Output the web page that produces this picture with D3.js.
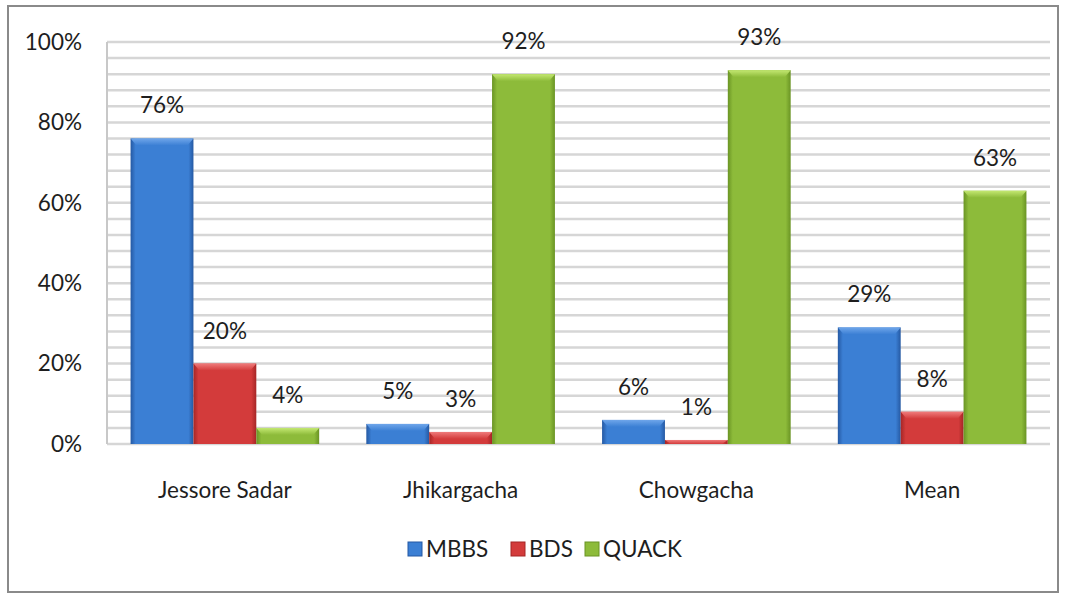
<!DOCTYPE html>
<html>
<head>
<meta charset="utf-8">
<script src="https://cdn.jsdelivr.net/npm/d3@7"></script>
<style>
  html, body { margin: 0; padding: 0; background: #fff; }
  svg { display: block; }
  text { font-family: Lato, "Open Sans", sans-serif; fill: #1e1e1e; }
</style>
</head>
<body>
<svg id="chart" width="1067" height="596"></svg>
<script>
// Share of practitioners by type in each upazila
const categories = ["Jessore Sadar", "Jhikargacha", "Chowgacha", "Mean"];
const seriesNames = ["MBBS", "BDS", "QUACK"];
const mbbs  = [76, 5, 6, 29];
const bds   = [20, 3, 1, 8];
const quack = [4, 92, 93, 63];
const yTicks = [0, 20, 40, 60, 80, 100];
const yMinorStep = 4;

const seriesValues = [mbbs, bds, quack];
const palette = [
  { mid: "#3b7fd4", dark: "#2559a3", light: "#6fa6ea" },
  { mid: "#d33b3b", dark: "#a52626", light: "#ef7b7b" },
  { mid: "#8dbb3a", dark: "#6a9424", light: "#c4e872" }
];
const fontSize = "22.5px";

const svg = d3.select("#chart");
const plot = { left: 107, right: 1050, top: 42, bottom: 444 };

// outer frame
svg.append("rect")
  .attr("x", 8).attr("y", 6).attr("width", 1050).attr("height", 586)
  .attr("fill", "none").attr("stroke", "#8a8a8a").attr("stroke-width", 2);

const x0 = d3.scaleBand().domain(categories).range([plot.left, plot.right]).paddingInner(0.2).paddingOuter(0.1);
const x1 = d3.scaleBand().domain(seriesNames).range([0, x0.bandwidth()]);
const y = d3.scaleLinear().domain([0, 100]).range([plot.bottom, plot.top]);

// gradients
const defs = svg.append("defs");
palette.forEach((c, i) => {
  const g = defs.append("linearGradient").attr("id", "grad" + i)
    .attr("x1", "0").attr("x2", "1").attr("y1", "0").attr("y2", "0");
  g.append("stop").attr("offset", "0").attr("stop-color", c.dark);
  g.append("stop").attr("offset", "0.08").attr("stop-color", c.mid);
  g.append("stop").attr("offset", "0.92").attr("stop-color", c.mid);
  g.append("stop").attr("offset", "1").attr("stop-color", c.dark);
  const t = defs.append("linearGradient").attr("id", "top" + i)
    .attr("x1", "0").attr("x2", "0").attr("y1", "0").attr("y2", "1");
  t.append("stop").attr("offset", "0").attr("stop-color", c.light);
  t.append("stop").attr("offset", "1").attr("stop-color", c.mid);
});

// horizontal gridlines every 4%
const gridVals = d3.range(0, 100 + 0.001, yMinorStep);
svg.append("g").selectAll("line").data(gridVals).join("line")
  .attr("x1", plot.left).attr("x2", plot.right)
  .attr("y1", d => y(d)).attr("y2", d => y(d))
  .attr("stroke", "#d6d6d6").attr("stroke-width", 2.5);

// left axis line
svg.append("line").attr("x1", plot.left).attr("x2", plot.left)
  .attr("y1", plot.top).attr("y2", plot.bottom)
  .attr("stroke", "#c8c8c8").attr("stroke-width", 2);

// y axis labels
const yAxis = d3.axisLeft(y).tickValues(yTicks).tickFormat(d => d + "%").tickSize(0).tickPadding(25);
const ya = svg.append("g").attr("transform", `translate(${plot.left},0)`).call(yAxis);
ya.select(".domain").remove();
ya.selectAll("text").style("font-size", fontSize).style("font-family", "Lato, sans-serif").attr("fill", "#1e1e1e");

// bars
const groups = svg.append("g").selectAll("g").data(categories).join("g")
  .attr("transform", d => `translate(${x0(d)},0)`);

seriesNames.forEach((s, si) => {
  groups.each(function(cat, ci) {
    const v = seriesValues[si][ci];
    const g = d3.select(this);
    const bx = x1(s), bw = x1.bandwidth();
    const by = y(v), bh = y(0) - y(v);
    g.append("rect").attr("x", bx).attr("y", by).attr("width", bw).attr("height", bh)
      .attr("fill", `url(#grad${si})`);
    const bev = Math.min(7, bh);
    g.append("path")
      .attr("d", `M${bx},${by} L${bx + bw},${by} L${bx + bw - 6},${by + bev} L${bx + 6},${by + bev} Z`)
      .attr("fill", `url(#top${si})`);
    g.append("text")
      .attr("x", bx + bw / 2).attr("y", by - 25)
      .attr("text-anchor", "middle")
      .style("font-size", fontSize)
      .text(v + "%");
  });
});

// category labels
svg.append("g").selectAll("text").data(categories).join("text")
  .attr("x", d => x0(d) + x0.bandwidth() / 2)
  .attr("y", 498)
  .attr("text-anchor", "middle")
  .style("font-size", fontSize)
  .text(d => d);

// legend
const legendX = [408, 511, 585];
const leg = svg.append("g").selectAll("g").data(seriesNames).join("g")
  .attr("transform", (d, i) => `translate(${legendX[i]},549)`);
leg.append("rect").attr("x", 0).attr("y", -7).attr("width", 14).attr("height", 14)
  .attr("fill", (d, i) => palette[i].mid).attr("stroke", (d, i) => palette[i].dark).attr("stroke-width", 1);
leg.append("text").attr("x", 18).attr("y", 8).style("font-size", fontSize).text(d => d);
</script>
</body>
</html>
